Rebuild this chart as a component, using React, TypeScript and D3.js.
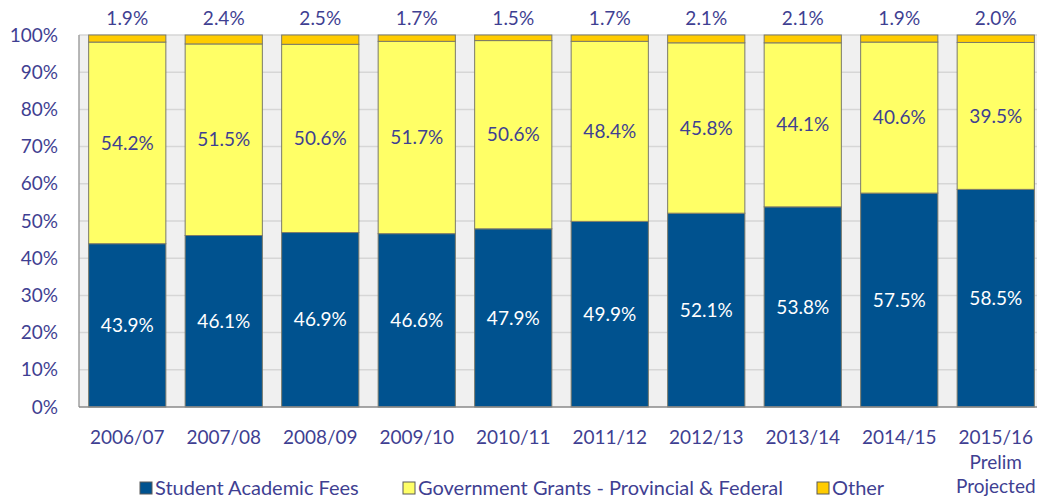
import { useEffect, useRef } from 'react';
import * as d3 from 'd3';

const years = ['2006/07', '2007/08', '2008/09', '2009/10', '2010/11', '2011/12', '2012/13', '2013/14', '2014/15', '2015/16'];
const studentFees = [43.9, 46.1, 46.9, 46.6, 47.9, 49.9, 52.1, 53.8, 57.5, 58.5];
const govGrants = [54.2, 51.5, 50.6, 51.7, 50.6, 48.4, 45.8, 44.1, 40.6, 39.5];
const other = [1.9, 2.4, 2.5, 1.7, 1.5, 1.7, 2.1, 2.1, 1.9, 2.0];
const yTicks = [0, 10, 20, 30, 40, 50, 60, 70, 80, 90, 100];
const seriesNames = ['Student Academic Fees', 'Government Grants - Provincial & Federal', 'Other'];
const colors = ['#00528f', '#ffff66', '#ffcc00'];

const W = 1037;
const H = 499;
const margin = { top: 35, right: -7, bottom: 92, left: 79 };
const textColor = '#3f3f92';
const font = "Lato, 'Open Sans', sans-serif";
const fs = '19px';

const App = () => {
  const svgRef = useRef<SVGSVGElement>(null);

  useEffect(() => {
    const svg = d3.select(svgRef.current);
    svg.selectAll('*').remove();

    const innerW = W - margin.left - margin.right;
    const innerH = H - margin.top - margin.bottom;

    const x = d3.scaleBand().domain(years).range([0, innerW]).paddingInner(0.2).paddingOuter(0.1);
    const y = d3.scaleLinear().domain([0, 100]).range([innerH, 0]);

    const g = svg.append('g').attr('transform', `translate(${margin.left},${margin.top})`);

    // plot background
    g.append('rect').attr('width', innerW).attr('height', innerH).attr('fill', '#f0f0f0');

    // gridlines
    g.selectAll('.grid')
      .data(yTicks.slice(1))
      .enter()
      .append('line')
      .attr('x1', 0)
      .attr('x2', innerW)
      .attr('y1', d => y(d))
      .attr('y2', d => y(d))
      .attr('stroke', '#d6d6d6')
      .attr('stroke-width', 1.5);

    // stacked data
    const rows = years.map((yr, i) => ({ year: yr, s0: studentFees[i], s1: govGrants[i], s2: other[i] }));
    const stack = d3.stack<any>().keys(['s0', 's1', 's2'])(rows);

    stack.forEach((layer, li) => {
      g.selectAll(`.bar${li}`)
        .data(layer)
        .enter()
        .append('rect')
        .attr('x', d => x(d.data.year)!)
        .attr('y', d => y(Math.min(d[1], 100)))
        .attr('width', x.bandwidth())
        .attr('height', d => y(d[0]) - y(Math.min(d[1], 100)))
        .attr('fill', colors[li])
        .attr('stroke', '#7a7a6a')
        .attr('stroke-width', 1);
    });

    const addLabels = (layer: any, cls: string, fill: string, yPos: (d: any) => number, key: string) => {
      g.selectAll(`.${cls}`)
        .data(layer)
        .enter()
        .append('text')
        .attr('x', (d: any) => x(d.data.year)! + x.bandwidth() / 2)
        .attr('y', yPos)
        .attr('dy', '0.35em')
        .attr('text-anchor', 'middle')
        .attr('fill', fill)
        .style('font-family', font)
        .style('font-size', fs)
        .text((d: any) => `${d.data[key].toFixed(1)}%`);
    };
    addLabels(stack[0], 'lab0', '#ffffff', d => y((d[0] + d[1]) / 2), 's0');
    addLabels(stack[1], 'lab1', textColor, d => y((d[0] + d[1]) / 2), 's1');
    addLabels(stack[2], 'lab2', textColor, () => -17, 's2');

    // left axis line and baseline
    g.append('line').attr('x1', 0).attr('x2', 0).attr('y1', 0).attr('y2', innerH).attr('stroke', '#a0a0a0').attr('stroke-width', 1.5);
    g.append('line').attr('x1', 0).attr('x2', innerW).attr('y1', innerH).attr('y2', innerH).attr('stroke', '#8a8a8a').attr('stroke-width', 1.5);

    // y tick labels
    g.selectAll('.ytick')
      .data(yTicks)
      .enter()
      .append('text')
      .attr('x', -21)
      .attr('y', d => y(d))
      .attr('dy', '0.35em')
      .attr('text-anchor', 'end')
      .attr('fill', textColor)
      .style('font-family', font)
      .style('font-size', fs)
      .text(d => `${d}%`);

    // x labels
    const cx = (d: string) => x(d)! + x.bandwidth() / 2;
    const xl = g.selectAll('.xtick')
      .data(years)
      .enter()
      .append('text')
      .attr('x', d => cx(d))
      .attr('y', innerH + 37)
      .attr('text-anchor', 'middle')
      .attr('fill', textColor)
      .style('font-family', font)
      .style('font-size', fs);
    xl.append('tspan').text(d => d);
    xl.filter((d, i) => i === years.length - 1).each(function (d) {
      d3.select(this).append('tspan').attr('x', cx(d as string)).attr('dy', 25).text('Prelim');
      d3.select(this).append('tspan').attr('x', cx(d as string)).attr('dy', 24).text('Projected');
    });

    // legend
    const legendX = [140, 403, 817];
    const lg = svg.append('g').attr('transform', `translate(0,487)`);
    seriesNames.forEach((name, i) => {
      lg.append('rect')
        .attr('x', legendX[i])
        .attr('y', -5)
        .attr('width', 12)
        .attr('height', 12)
        .attr('fill', colors[i])
        .attr('stroke', '#5a5a5a')
        .attr('stroke-width', 1);
      lg.append('text')
        .attr('x', legendX[i] + 15)
        .attr('y', 0)
        .attr('dy', '0.4em')
        .attr('fill', textColor)
        .style('font-family', font)
        .style('font-size', '20px')
        .text(name);
    });
  }, []);

  return (
    <svg ref={svgRef} width={W} height={H} style={{ position: 'absolute', left: 0, top: 0, background: '#fff' }}></svg>
  );
};

export default App;
